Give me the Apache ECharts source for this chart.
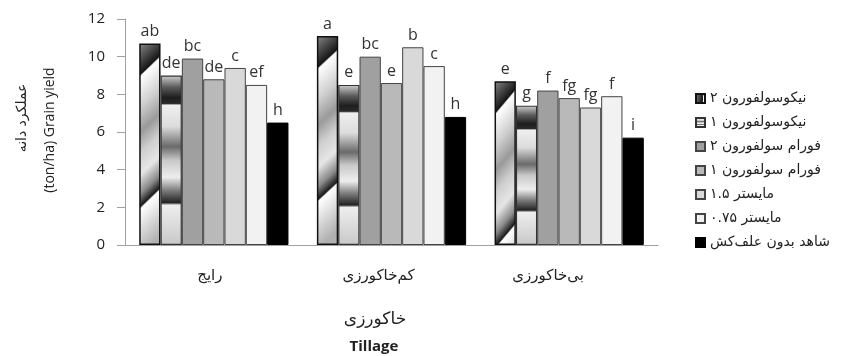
<!DOCTYPE html>
<html>
<head>
<meta charset="utf-8">
<script src="https://cdn.jsdelivr.net/npm/echarts@6/dist/echarts.min.js"></script>
<style>
html,body{margin:0;padding:0;background:#fff;}
#chart{width:845px;height:356px;}
</style>
</head>
<body>
<div id="chart"></div>
<script>
var categories = ['رایج', 'کم‌خاکورزی', 'بی‌خاکورزی'];
var seriesNames = ['نیکوسولفورون ۲', 'نیکوسولفورون ۱', 'فورام سولفورون ۲', 'فورام سولفورون ۱', 'مایستر ۱.۵', 'مایستر ۰.۷۵', 'شاهد بدون علف‌کش'];
var nico2 = [10.7, 11.1, 8.7];
var nico1 = [9.0, 8.5, 7.4];
var foram2 = [9.9, 10.0, 8.2];
var foram1 = [8.8, 8.6, 7.8];
var maister15 = [9.4, 10.5, 7.3];
var maister075 = [8.5, 9.5, 7.9];
var control = [6.5, 6.8, 5.7];
var lettersNico2 = ['ab', 'a', 'e'];
var lettersNico1 = ['de', 'e', 'g'];
var lettersForam2 = ['bc', 'bc', 'f'];
var lettersForam1 = ['de', 'e', 'fg'];
var lettersMaister15 = ['c', 'b', 'fg'];
var lettersMaister075 = ['ef', 'c', 'f'];
var lettersControl = ['h', 'h', 'i'];
var yTicks = [0, 2, 4, 6, 8, 10, 12];

var values = [nico2, nico1, foram2, foram1, maister15, maister075, control];
var letters = [lettersNico2, lettersNico1, lettersForam2, lettersForam1, lettersMaister15, lettersMaister075, lettersControl];

var diagGrad = {
  type: 'linear', x: 0, y: 0, x2: 5.0, y2: 0.55,
  colorStops: [
    {offset: 0, color: '#8a8a8a'},
    {offset: 0.15, color: '#151515'},
    {offset: 0.16, color: '#ffffff'},
    {offset: 0.30, color: '#d0d0d0'},
    {offset: 0.42, color: '#9a9a9a'},
    {offset: 0.52, color: '#cfcfcf'},
    {offset: 0.62, color: '#e6e6e6'},
    {offset: 0.71, color: '#8a8a8a'},
    {offset: 0.77, color: '#1a1a1a'},
    {offset: 0.78, color: '#ffffff'},
    {offset: 1, color: '#b0b0b0'}
  ]
};
var bandGrad = {
  type: 'linear', x: 0, y: 0, x2: 0, y2: 1,
  colorStops: [
    {offset: 0, color: '#cfcfcf'},
    {offset: 0.07, color: '#5a5a5a'},
    {offset: 0.13, color: '#1e1e1e'},
    {offset: 0.165, color: '#2a2a2a'},
    {offset: 0.175, color: '#efefef'},
    {offset: 0.30, color: '#dcdcdc'},
    {offset: 0.42, color: '#6a6a6a'},
    {offset: 0.50, color: '#c8c8c8'},
    {offset: 0.60, color: '#eeeeee'},
    {offset: 0.68, color: '#7a7a7a'},
    {offset: 0.75, color: '#222222'},
    {offset: 0.765, color: '#eeeeee'},
    {offset: 1, color: '#c8c8c8'}
  ]
};
var fills = [diagGrad, bandGrad, '#a0a0a0', '#b9b9b9', '#d9d9d9', '#f2f2f2', '#000000'];
var borders = ['#111', '#333', '#444', '#444', '#444', '#444', '#000'];
var borderWidths = [1.5, 1.2, 1, 1, 1, 1, 1];

var persianFont = 'DejaVu Sans';
var latinFont = 'Open Sans';

var series = seriesNames.map(function (name, i) {
  return {
    name: name,
    type: 'bar',
    barGap: '0%',
    barCategoryGap: '16%',
    data: values[i],
    itemStyle: {color: fills[i], borderColor: borders[i], borderWidth: borderWidths[i]},
    label: {
      show: true,
      position: 'top',
      distance: 4,
      fontFamily: latinFont,
      fontSize: 16,
      color: '#333',
      formatter: function (p) { return letters[i][p.dataIndex]; }
    }
  };
});

var chart = echarts.init(document.getElementById('chart'));
chart.setOption({
  animation: false,
  backgroundColor: '#fff',
  grid: {left: 125, right: 187, top: 19, bottom: 111, containLabel: false},
  legend: {
    orient: 'vertical',
    left: 690,
    top: 86,
    itemWidth: 9,
    itemHeight: 9,
    itemGap: 9,
    icon: 'rect',
    textStyle: {fontFamily: persianFont, fontSize: 14, color: '#222', lineHeight: 15},
    data: seriesNames
  },
  xAxis: {
    type: 'category',
    data: categories,
    axisLine: {lineStyle: {color: '#a0a0a0', width: 1}},
    axisTick: {show: false},
    axisLabel: {
      fontFamily: persianFont, fontSize: 15, color: '#222', margin: 24,
      formatter: function (v, i) { return '{c' + i + '|' + v + '}'; },
      rich: {
        c0: {fontFamily: persianFont, fontSize: 15, color: '#222', padding: [0, 8, 0, 0]},
        c1: {fontFamily: persianFont, fontSize: 15, color: '#222', padding: [0, 26, 0, 0]},
        c2: {fontFamily: persianFont, fontSize: 15, color: '#222', padding: [0, 42, 0, 0]}
      }
    }
  },
  yAxis: {
    type: 'value',
    min: yTicks[0],
    max: yTicks[yTicks.length - 1],
    interval: 2,
    splitLine: {show: false},
    axisLine: {show: true, lineStyle: {color: '#a0a0a0', width: 1}},
    axisTick: {show: true, length: 8, lineStyle: {color: '#a0a0a0'}},
    axisLabel: {fontFamily: latinFont, fontSize: 15, color: '#222', margin: 20}
  },
  graphic: [
    {type: 'text', x: 22, y: 118, rotation: Math.PI / 2,
     style: {text: 'عملکرد دانه', font: '14px "DejaVu Sans"', fill: '#222', textAlign: 'center', textVerticalAlign: 'middle'}},
    {type: 'text', x: 50, y: 130, rotation: Math.PI / 2,
     style: {text: '(ton/ha) Grain yield', font: '14px "Open Sans"', fill: '#222', textAlign: 'center', textVerticalAlign: 'middle'}},
    {type: 'text', x: 375, y: 320,
     style: {text: 'خاکورزی', font: '17px "DejaVu Sans"', fill: '#222', textAlign: 'center', textVerticalAlign: 'middle'}},
    {type: 'text', x: 374, y: 347,
     style: {text: 'Tillage', font: 'bold 15px "Open Sans"', fill: '#222', textAlign: 'center', textVerticalAlign: 'middle'}}
  ],
  series: series
});
</script>
</body>
</html>
